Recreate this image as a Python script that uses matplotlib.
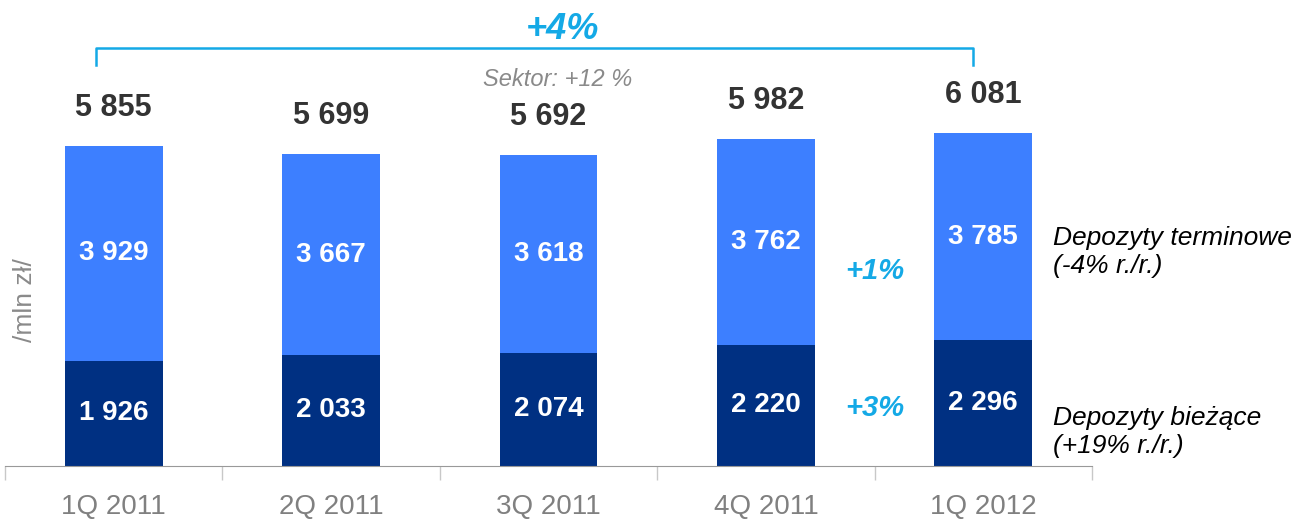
import numpy as np
import matplotlib.pyplot as plt

plt.rcParams['font.family'] = ['Liberation Sans', 'DejaVu Sans']

# deposits, mln zl
quarters = ['1Q 2011', '2Q 2011', '3Q 2011', '4Q 2011', '1Q 2012']
current = [1926, 2033, 2074, 2220, 2296]   # depozyty biezace
term = [3929, 3667, 3618, 3762, 3785]      # depozyty terminowe
totals = [5855, 5699, 5692, 5982, 6081]

light = '#3D7FFF'
dark = '#003082'
cyan = '#14A9E6'


def fmt(v):
    return f'{v:,}'.replace(',', ' ')


fig = plt.figure(figsize=(12.97, 5.2), dpi=100)
ax = fig.add_axes([5 / 1297, 54 / 520, 1087 / 1297, 466 / 520])

x = np.arange(len(quarters))
w = 0.45
ax.bar(x, current, w, color=dark, zorder=2)
ax.bar(x, term, w, bottom=current, color=light, zorder=2)

for i in range(len(x)):
    ax.text(x[i], current[i] / 2, fmt(current[i]), ha='center', va='center',
            color='white', fontsize=20, fontweight='bold')
    ax.text(x[i], current[i] + term[i] / 2, fmt(term[i]), ha='center', va='center',
            color='white', fontsize=20, fontweight='bold')
    ax.text(x[i], totals[i] + 420, fmt(totals[i]), ha='center', va='bottom',
            color='#333333', fontsize=22, fontweight='bold')

ax.set_xlim(-0.5, 4.5)
ax.set_ylim(0, 8520)
for s in ['top', 'right', 'left']:
    ax.spines[s].set_visible(False)
ax.spines['bottom'].set_color('#999999')
ax.set_yticks([])
ax.set_xticks(np.arange(-0.5, 5, 1))
ax.set_xticklabels([])
ax.set_xticks(x, minor=True)
ax.set_xticklabels(quarters, minor=True, fontsize=20, color='#808080')
ax.tick_params(axis='x', which='major', length=10, color='#c8c8c8', width=1)
ax.tick_params(axis='x', which='minor', length=0, pad=20)

# bracket for total growth
px = 1 / 0.0547   # data units per pixel
yb = 8520 - 48 * px
yt = 8520 - 65 * px
x0 = (96 - 5) / 217.4 - 0.5
x1 = (973 - 5) / 217.4 - 0.5
ax.plot([x0, x0, x1, x1], [yt, yb, yb, yt], color=cyan, lw=1.8, clip_on=False,
        solid_joinstyle='round')
ax.text((562 - 5) / 217.4 - 0.5, 8520 - 30 * px, '+4%', ha='center', va='center',
        color=cyan, fontsize=26, fontweight='bold', style='italic')
ax.text((558 - 5) / 217.4 - 0.5, 8520 - 80 * px, 'Sektor: +12 %', ha='center', va='center',
        color='#8a8a8a', fontsize=17, style='italic')

# q/q changes
ax.text(3.5, 8520 - 271 * px, '+1%', ha='center', va='center',
        color=cyan, fontsize=21, fontweight='bold', style='italic')
ax.text(3.5, 8520 - 408 * px, '+3%', ha='center', va='center',
        color=cyan, fontsize=21, fontweight='bold', style='italic')

# unit label and series labels
fig.text(25 / 1297, 1 - 300 / 520, '/mln zł/', rotation=90, ha='center', va='center',
         color='#8a8a8a', fontsize=19)
fig.text(1053 / 1297, 1 - 252 / 520, 'Depozyty terminowe\n(-4% r./r.)', ha='left',
         va='center', fontsize=19, style='italic', linespacing=1.25)
fig.text(1053 / 1297, 1 - 432 / 520, 'Depozyty bieżące\n(+19% r./r.)', ha='left',
         va='center', fontsize=19, style='italic', linespacing=1.25)

fig.savefig('out.png', dpi=100)
